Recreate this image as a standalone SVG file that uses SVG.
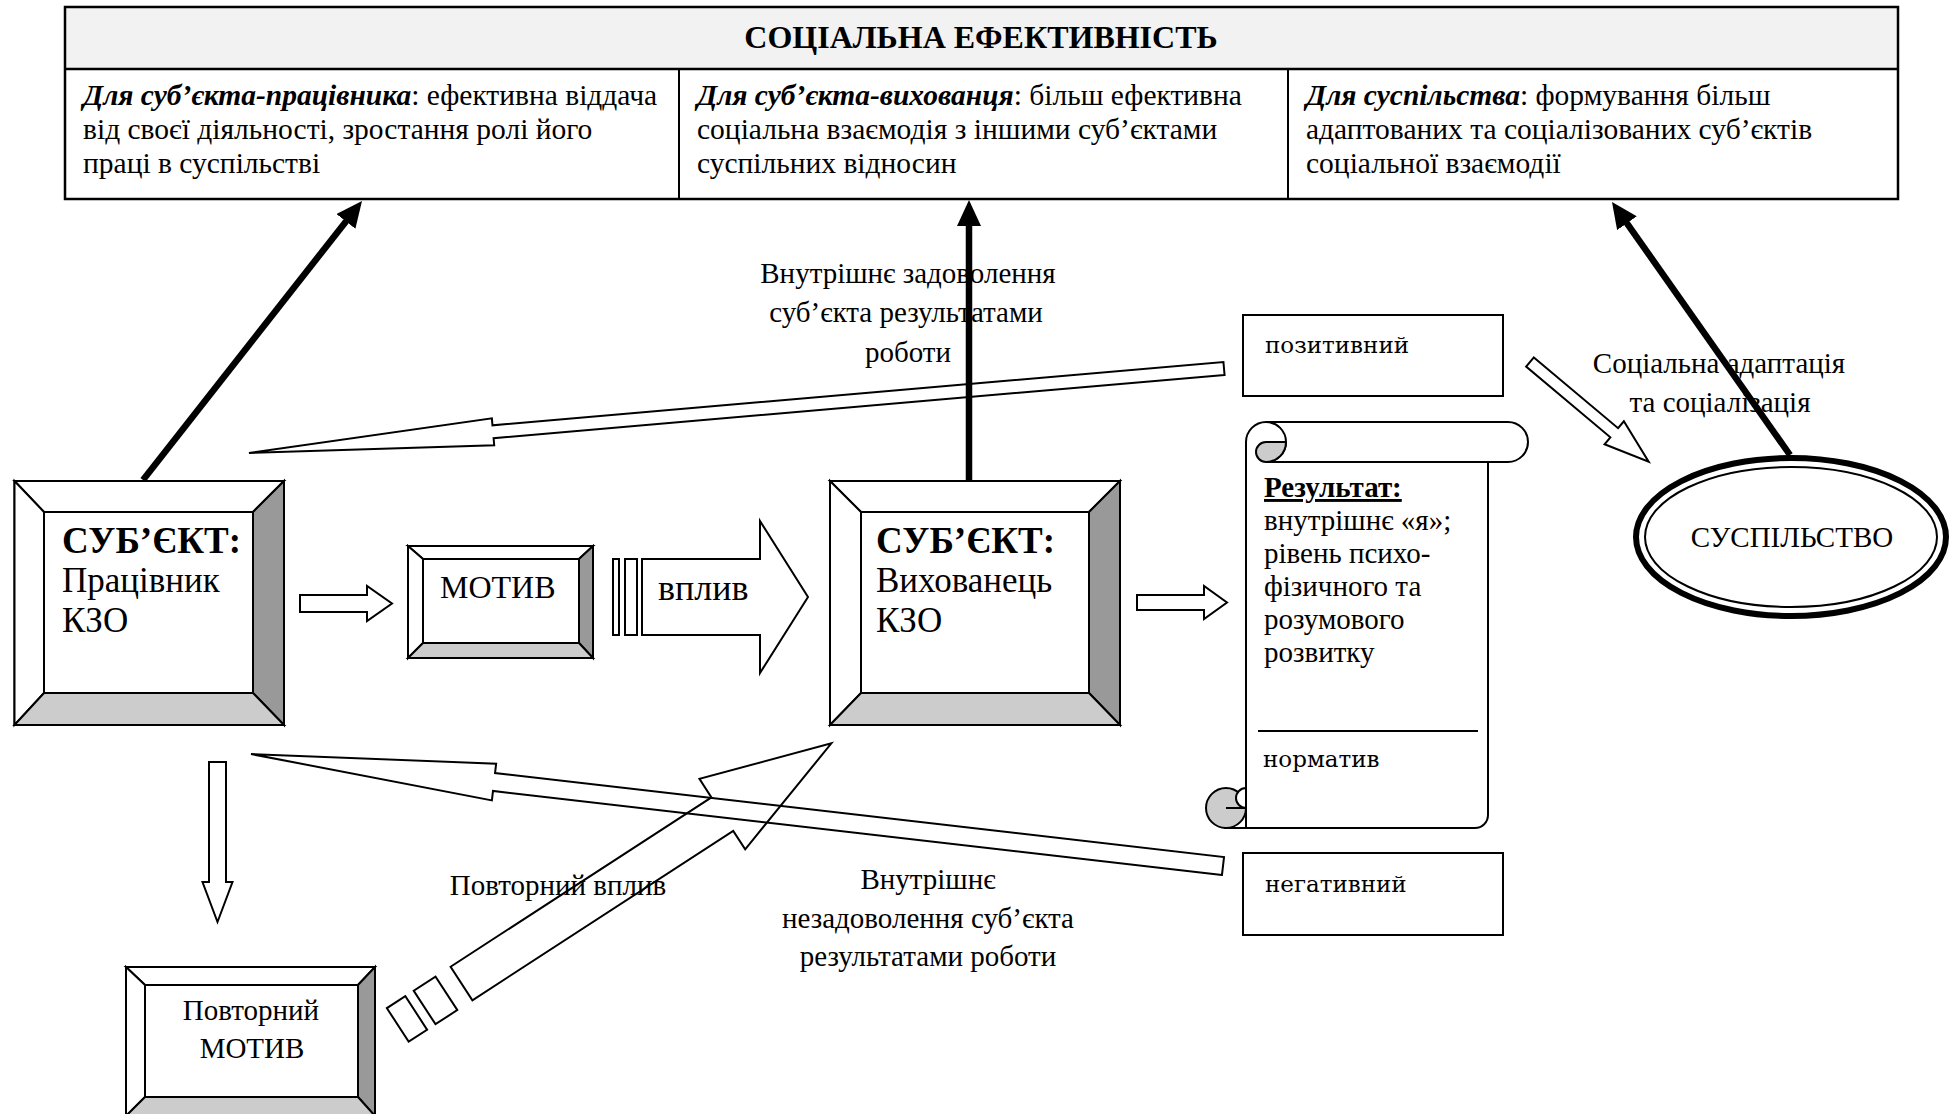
<svg xmlns="http://www.w3.org/2000/svg" width="1953" height="1114" viewBox="0 0 1953 1114">
  <style>
    text { font-family: "Liberation Serif", "Times New Roman", serif; fill: #000; }
    .t28 { font-size: 29.5px; }
    .t29 { font-size: 29px; }
    .big { font-size: 35px; }
    .bigb { font-size: 37px; font-weight: bold; }
    .alt { font-family: "DejaVu Serif", serif; font-size: 23px; }
    .mid { text-anchor: middle; }
    .b { font-weight: bold; }
    .bi { font-weight: bold; font-style: italic; }
    .edge { fill: #fff; stroke: #000; stroke-width: 2; stroke-linejoin: miter; }
    .dark { fill: #999; stroke: #000; stroke-width: 2; }
    .light { fill: #ccc; stroke: #000; stroke-width: 2; }
    .box { fill: #fff; stroke: #000; stroke-width: 2; }
    .hollow { fill: none; stroke: #000; stroke-width: 2; stroke-linejoin: miter; }
    .thick { stroke: #000; stroke-width: 6.5; fill: none; marker-end: url(#head); }
  </style>
  <defs>
    <marker id="head" markerUnits="userSpaceOnUse" markerWidth="30" markerHeight="26" refX="14" refY="12" orient="auto">
      <path d="M0,0 L26,12 L0,24 Z" fill="#000"/>
    </marker>
  </defs>

  <rect width="1953" height="1114" fill="#fff"/>

  <!-- social effectiveness table -->
  <g id="effectiveness">
    <rect x="65" y="7" width="1833" height="62" fill="#f2f2f2"/>
    <rect x="65" y="7" width="1833" height="192" fill="none" stroke="#000" stroke-width="2.5"/>
    <line x1="65" y1="69" x2="1898" y2="69" stroke="#000" stroke-width="2.5"/>
    <line x1="679" y1="69" x2="679" y2="199" stroke="#000" stroke-width="2"/>
    <line x1="1288" y1="69" x2="1288" y2="199" stroke="#000" stroke-width="2"/>
    <text class="b mid" x="981" y="48" font-size="32">СОЦІАЛЬНА ЕФЕКТИВНІСТЬ</text>
    <text class="t28" x="83" y="105"><tspan class="bi">Для суб’єкта-працівника</tspan>: ефективна віддача</text>
    <text class="t28" x="83" y="139">від своєї діяльності, зростання ролі його</text>
    <text class="t28" x="83" y="173">праці в суспільстві</text>
    <text class="t28" x="697" y="105"><tspan class="bi">Для суб’єкта-вихованця</tspan>: більш ефективна</text>
    <text class="t28" x="697" y="139">соціальна взаємодія з іншими суб’єктами</text>
    <text class="t28" x="697" y="173">суспільних відносин</text>
    <text class="t28" x="1306" y="105"><tspan class="bi">Для суспільства</tspan>: формування більш</text>
    <text class="t28" x="1306" y="139">адаптованих та соціалізованих суб’єктів</text>
    <text class="t28" x="1306" y="173">соціальної взаємодії</text>
  </g>

  <!-- subject: worker -->
  <g id="worker">
    <rect class="box" x="14.5" y="481" width="269.5" height="244"/>
    <polygon class="edge" points="14.5,481 284,481 253,512 44,512"/>
    <polygon class="edge" points="14.5,481 44,512 44,693 14.5,725"/>
    <polygon class="dark" points="284,481 284,725 253,693 253,512"/>
    <polygon class="light" points="14.5,725 284,725 253,693 44,693"/>
    <text class="bigb" x="62" y="553">СУБ’ЄКТ:</text>
    <text class="big" x="62" y="592">Працівник</text>
    <text class="big" x="62" y="632">КЗО</text>
  </g>

  <!-- motive -->
  <g id="motive">
    <rect class="box" x="408" y="546" width="185" height="112"/>
    <polygon class="edge" points="408,546 593,546 579,559 423,559"/>
    <polygon class="edge" points="408,546 423,559 423,643 408,658"/>
    <polygon class="dark" points="593,546 593,658 579,643 579,559"/>
    <polygon class="light" points="408,658 593,658 579,643 423,643"/>
    <text x="440" y="598" font-size="32">МОТИВ</text>
  </g>

  <!-- influence arrow -->
  <g id="influence">
    <rect class="box" x="613" y="559" width="6" height="76"/>
    <rect class="box" x="625" y="559" width="12" height="76"/>
    <polygon class="box" points="642,559 760,559 760,521 808,597 760,673 760,635 642,635"/>
    <text x="658" y="600" font-size="36">вплив</text>
  </g>

  <!-- subject: pupil -->
  <g id="pupil">
    <rect class="box" x="830" y="481" width="290" height="244"/>
    <polygon class="edge" points="830,481 1120,481 1089,512 861,512"/>
    <polygon class="edge" points="830,481 861,512 861,693 830,725"/>
    <polygon class="dark" points="1120,481 1120,725 1089,693 1089,512"/>
    <polygon class="light" points="830,725 1120,725 1089,693 861,693"/>
    <text class="bigb" x="876" y="553">СУБ’ЄКТ:</text>
    <text class="big" x="876" y="592">Вихованець</text>
    <text class="big" x="876" y="632">КЗО</text>
  </g>

  <!-- result scroll -->
  <g id="result">
    <path class="box" d="M1266,422 L1508,422 A20,20 0 0 1 1508,462 L1488,462 L1488,815 A13,13 0 0 1 1475,828 L1226,828 L1246,808 L1246,442 A20,20 0 0 1 1266,422 Z"/>
    <path fill="none" stroke="#000" stroke-width="2" d="M1266,422 A20,20 0 0 1 1286,442 A20,20 0 0 1 1266,462 L1508,462"/>
    <path class="light" d="M1266,442 L1286,442 A20,20 0 0 1 1266,462 A10,10 0 0 1 1266,442 Z"/>
    <circle class="light" cx="1226" cy="808" r="20"/>
    <path fill="#fff" stroke="#000" stroke-width="2" d="M1246,788 A10,10 0 0 0 1246,808 Z"/>
    <line x1="1226" y1="808" x2="1246" y2="808" stroke="#000" stroke-width="2"/>
    <line x1="1246" y1="786" x2="1246" y2="828" stroke="#000" stroke-width="2"/>
    <text class="t29 b" x="1264" y="497" text-decoration="underline">Результат:</text>
    <text class="t29" x="1264" y="530">внутрішнє «я»;</text>
    <text class="t29" x="1264" y="563">рівень психо-</text>
    <text class="t29" x="1264" y="596">фізичного та</text>
    <text class="t29" x="1264" y="629">розумового</text>
    <text class="t29" x="1264" y="662">розвитку</text>
    <line x1="1258" y1="731" x2="1478" y2="731" stroke="#000" stroke-width="2"/>
    <text class="alt" x="1263" y="767">норматив</text>
  </g>

  <!-- positive / negative outcome -->
  <g id="positive">
    <rect class="box" x="1243" y="315" width="260" height="81"/>
    <text class="alt" x="1265" y="353">позитивний</text>
  </g>
  <g id="negative">
    <rect class="box" x="1243" y="853" width="260" height="82"/>
    <text class="alt" x="1265" y="892">негативний</text>
  </g>

  <!-- society -->
  <g id="society">
    <ellipse cx="1791" cy="537" rx="155" ry="79" fill="#fff" stroke="#000" stroke-width="6"/>
    <ellipse cx="1791" cy="537" rx="146" ry="70" fill="none" stroke="#000" stroke-width="2"/>
    <text class="t29 mid" x="1792" y="547">СУСПІЛЬСТВО</text>
  </g>

  <!-- repeated motive -->
  <g id="repeat-motive">
    <rect class="box" x="126" y="967" width="249" height="149"/>
    <polygon class="edge" points="126,967 375,967 358,985 145,985"/>
    <polygon class="edge" points="126,967 145,985 145,1097 126,1116"/>
    <polygon class="dark" points="375,967 375,1116 358,1097 358,985"/>
    <polygon class="light" points="126,1116 375,1116 358,1097 145,1097"/>
    <text class="t29 mid" x="251" y="1020">Повторний</text>
    <text class="t29 mid" x="252" y="1058">МОТИВ</text>
  </g>

  <!-- connector labels -->
  <g id="labels">
    <text class="t29 mid" x="908" y="283">Внутрішнє задоволення</text>
    <text class="t29 mid" x="906" y="322">суб’єкта результатами</text>
    <text class="t29 mid" x="908" y="362">роботи</text>
    <text class="t29 mid" x="1719" y="373">Соціальна адаптація</text>
    <text class="t29 mid" x="1720" y="412">та соціалізація</text>
    <text class="t29 mid" x="558" y="895">Повторний вплив</text>
    <text class="t29 mid" x="928" y="889">Внутрішнє</text>
    <text class="t29 mid" x="928" y="928">незадоволення суб’єкта</text>
    <text class="t29 mid" x="928" y="966">результатами роботи</text>
  </g>

  <!-- connectors -->
  <g id="connectors">
    <line class="thick" x1="143" y1="480" x2="354.6" y2="210.4"/>
    <line class="thick" x1="969" y1="480" x2="969" y2="212"/>
    <line class="thick" x1="1790" y1="455" x2="1618.9" y2="211.8"/>
    <polygon class="hollow" points="300,595 367,595 367,586 392,603.5 367,621 367,612 300,612"/>
    <polygon class="hollow" points="1137,595 1204,595 1204,586 1227,602.5 1204,619 1204,610 1137,610"/>
    <polygon class="hollow" points="209,762 226,762 226,882 232.5,882 217.5,922 202.5,882 209,882"/>
    <polygon class="hollow" transform="translate(1224,368.5) rotate(175.05)" points="0,-6.5 733.7,-6.5 733.7,-13.5 978.7,0 733.7,13.5 733.7,6.5 0,6.5"/>
    <polygon class="hollow" transform="translate(1223,866) rotate(-173.43)" points="0,-9 733.8,-9 733.8,-18.5 978.4,0 733.8,18.5 733.8,9 0,9"/>
    <polygon class="hollow" transform="translate(1530,362) rotate(40.04)" points="0,-6 110,-6 110,-15 155,0 110,15 110,6 0,6"/>
    <g transform="translate(461.5,983.5) rotate(-33)">
      <polygon class="hollow" points="0,-20 311,-20 311,-42 441,0 311,42 311,20 0,20"/>
      <polygon class="hollow" points="-44,-20 -18,-20 -18,20 -44,20"/>
      <polygon class="hollow" points="-76,-20 -54,-20 -54,20 -76,20"/>
    </g>
  </g>
</svg>
